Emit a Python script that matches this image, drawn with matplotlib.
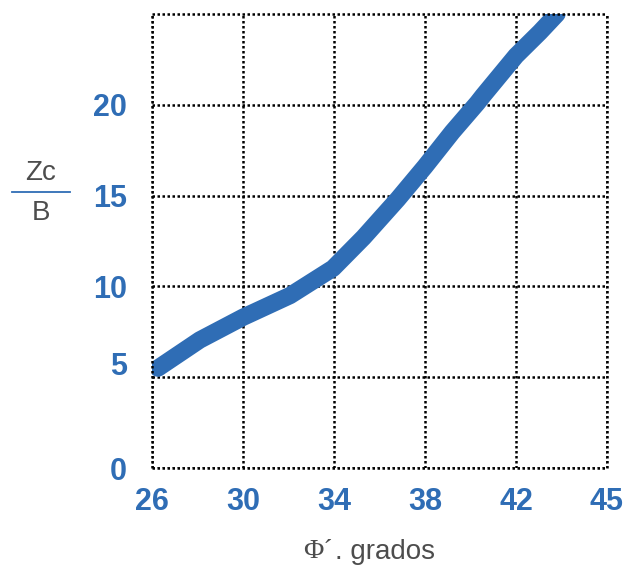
import matplotlib
matplotlib.use("Agg")
from matplotlib import pyplot as plt
from matplotlib.lines import Line2D
import matplotlib.transforms as mtransforms

# datos (Zc/B vs angulo de friccion)
phi = [26.26, 28.1, 30.0, 32.07, 33.96, 35.3, 36.8, 38.0, 39.2, 40.3, 40.55, 42.0, 43.05, 43.8]
zc_b = [5.5, 7.05, 8.3, 9.5, 11.0, 12.7, 14.8, 16.6, 18.5, 20.1, 20.5, 22.7, 24.0, 25.0]

x_ticks = [26, 30, 34, 38, 42, 46]          # la ultima division se rotula 45
x_labels = ["26", "30", "34", "38", "42", "45"]
y_ticks = [0, 5, 10, 15, 20]
y_labels = ["0", "5", "10", "15", "20"]

blue = "#2f6db5"
grey = "#4d4d4d"
sans = ["Liberation Sans", "DejaVu Sans"]

fig = plt.figure(figsize=(6.24, 5.71), dpi=100)
ax = fig.add_axes([152/624, 1-468/571, (607-152)/624, (468-14)/571])

ax.plot(phi, zc_b, color=blue, lw=12.5, solid_capstyle="round", solid_joinstyle="round")

ax.set_xlim(26, 46)
ax.set_ylim(0, 25)
ax.set_xticks(x_ticks)
ax.set_xticklabels(x_labels)
ax.set_yticks(y_ticks)
ax.set_yticklabels(y_labels)
ax.grid(True, color="black", linestyle=(0, (1, 1)), lw=1.8)
for s in ax.spines.values():
    s.set_linestyle((0, (1, 1)))
    s.set_linewidth(1.8)
    s.set_color("black")
    s.set_capstyle("butt")

ax.tick_params(length=0)
ax.tick_params(axis="y", pad=18)
ax.tick_params(axis="x", pad=14)
for lab in ax.get_xticklabels() + ax.get_yticklabels():
    lab.set_family(sans)
    lab.set_fontweight("bold")
    lab.set_fontsize(22)
    lab.set_color(blue)

# el "5" del original va un poco mas arriba que su linea
lab5 = ax.get_yticklabels()[1]
lab5.set_transform(lab5.get_transform() + mtransforms.ScaledTranslation(0, 14/100, fig.dpi_scale_trans))

# etiqueta eje y como fraccion Zc / B
fig.text(41/624, 1-173/571, "Zc", ha="center", va="center", fontsize=20, color=grey, family=sans)
fig.text(41/624, 1-213/571, "B", ha="center", va="center", fontsize=20, color=grey, family=sans)
fig.add_artist(Line2D([12/624, 70/624], [1-192/571, 1-192/571], color=blue, lw=1.3))

# etiqueta eje x
fig.text(333/624, 1-552/571, "\u03a6\u00b4", ha="right", va="center", fontsize=20, color=grey,
         family=["Liberation Serif", "DejaVu Serif"])
fig.text(335/624, 1-552/571, ". grados", ha="left", va="center", fontsize=20, color=grey, family=sans)

fig.savefig("out.png", dpi=100)
